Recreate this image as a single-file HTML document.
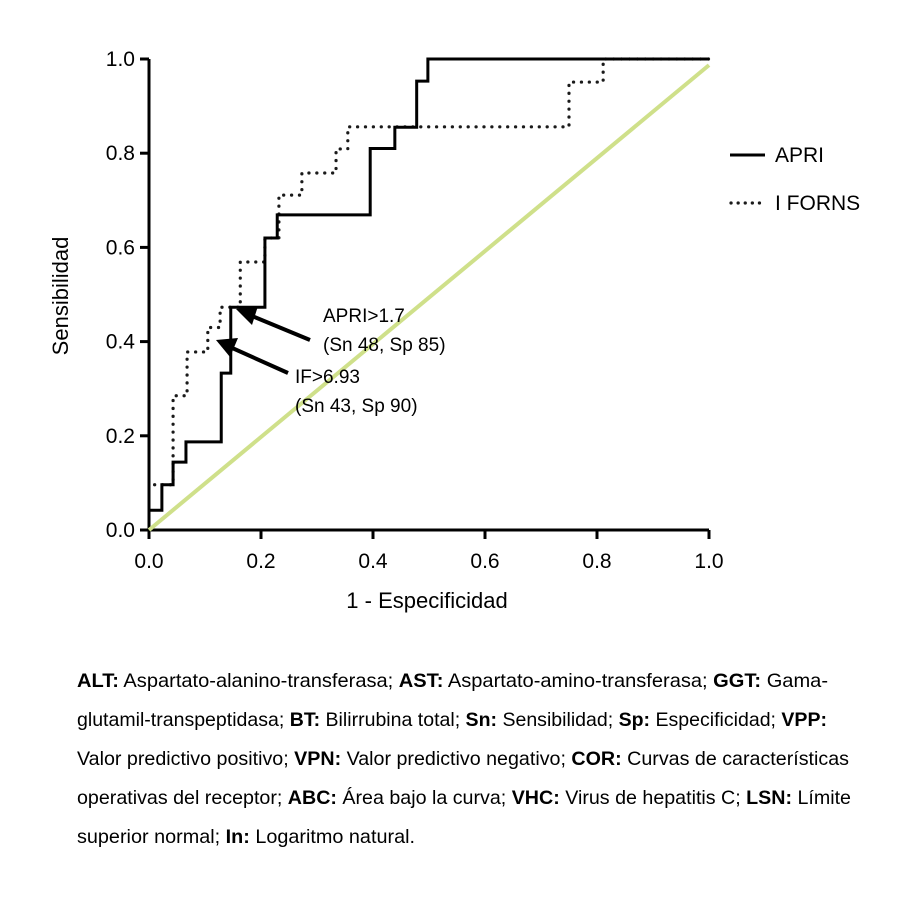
<!DOCTYPE html>
<html><head><meta charset="utf-8"><style>
body{margin:0;background:#fff}
svg{display:block;font-family:"Liberation Sans Narrow","Liberation Sans",sans-serif}
</style></head><body>
<svg id="chart" width="912" height="912" viewBox="0 0 912 912">
<rect width="912" height="912" fill="#fff"/>
<g id="axes"></g>
<g id="series"></g>
<text x="0" y="0" transform="translate(68 296) rotate(-90)" font-size="22" text-anchor="middle">Sensibilidad</text>
<text x="427" y="608" font-size="22" text-anchor="middle">1 - Especificidad</text>
<g>
<line x1="730" y1="155" x2="765" y2="155" stroke="#000" stroke-width="3"/>
<text x="775" y="162" font-size="21">APRI</text>
<line x1="731" y1="203" x2="766" y2="203" stroke="#1a1a1a" stroke-width="3.2" stroke-dasharray="0.1 7" stroke-linecap="round"/>
<text x="775" y="210" font-size="21">I FORNS</text>
</g>
<g>
<line x1="310" y1="340" x2="252" y2="316" stroke="#000" stroke-width="4"/>
<polygon points="236,309 258,306 252,325" fill="#000"/>
<text x="323" y="322" font-size="19">APRI&gt;1.7</text>
<text x="323" y="351" font-size="19">(Sn 48, Sp 85)</text>
<line x1="288" y1="373" x2="230" y2="347" stroke="#000" stroke-width="4"/>
<polygon points="216,340 238,338 230,357" fill="#000"/>
<text x="295" y="383" font-size="19">IF&gt;6.93</text>
<text x="295" y="412" font-size="19">(Sn 43, Sp 90)</text>
</g>
<g font-size="19.5">
<text x="77" y="687" textLength="751" lengthAdjust="spacingAndGlyphs"><tspan font-weight="bold">ALT:</tspan> Aspartato-alanino-transferasa; <tspan font-weight="bold">AST:</tspan> Aspartato-amino-transferasa; <tspan font-weight="bold">GGT:</tspan> Gama-</text>
<text x="77" y="726" textLength="750" lengthAdjust="spacingAndGlyphs">glutamil-transpeptidasa; <tspan font-weight="bold">BT:</tspan> Bilirrubina total; <tspan font-weight="bold">Sn:</tspan> Sensibilidad; <tspan font-weight="bold">Sp:</tspan> Especificidad; <tspan font-weight="bold">VPP:</tspan></text>
<text x="77" y="765" textLength="772" lengthAdjust="spacingAndGlyphs">Valor predictivo positivo; <tspan font-weight="bold">VPN:</tspan> Valor predictivo negativo; <tspan font-weight="bold">COR:</tspan> Curvas de características</text>
<text x="77" y="804" textLength="774" lengthAdjust="spacingAndGlyphs">operativas del receptor; <tspan font-weight="bold">ABC:</tspan> Área bajo la curva; <tspan font-weight="bold">VHC:</tspan> Virus de hepatitis C; <tspan font-weight="bold">LSN:</tspan> Límite</text>
<text x="77" y="843" textLength="338" lengthAdjust="spacingAndGlyphs">superior normal; <tspan font-weight="bold">In:</tspan> Logaritmo natural.</text>
</g>
</svg>
<script>
const ticks = [0, 0.2, 0.4, 0.6, 0.8, 1.0];
const tickLabels = ["0.0", "0.2", "0.4", "0.6", "0.8", "1.0"];
const apriFpr = [0, 0.023, 0.043, 0.066, 0.129, 0.146, 0.207, 0.229, 0.395, 0.439, 0.478, 0.498, 1];
const apriTpr = [0.042, 0.096, 0.144, 0.187, 0.333, 0.473, 0.62, 0.669, 0.81, 0.855, 0.953, 1, 1];
const fornsFpr = [0.01, 0.043, 0.068, 0.105, 0.127, 0.163, 0.207, 0.232, 0.273, 0.334, 0.355, 0.75, 0.811, 1];
const fornsTpr = [0.096, 0.285, 0.378, 0.43, 0.473, 0.569, 0.62, 0.711, 0.758, 0.809, 0.856, 0.951, 1, 1];
const refFpr = [0, 1];
const refTpr = [0, 0.987];

const NS = "http://www.w3.org/2000/svg";
const X0 = 149, X1 = 709, Y0 = 530, Y1 = 59;
function sx(v){ return X0 + v * (X1 - X0); }
function sy(v){ return Y0 - v * (Y0 - Y1); }
function mk(tag, attrs, parent){
  const e = document.createElementNS(NS, tag);
  for (const k in attrs) e.setAttribute(k, attrs[k]);
  parent.appendChild(e); return e;
}
const axes = document.getElementById('axes');
const series = document.getElementById('series');
let a = mk('path', {d:`M${sx(0)},${sy(1)} V${sy(0)} H${sx(1)}`, fill:'none', stroke:'#000', 'stroke-width':3}, axes);


ticks.forEach((t, i) => {
  const xt = mk('line', {x1:sx(t), x2:sx(t), y1:Y0, y2:Y0+9, stroke:'#000', 'stroke-width':3}, axes);
  
  
  const xl = mk('text', {x:sx(t), y:Y0+38, 'font-size':21, 'text-anchor':'middle'}, axes);
  xl.textContent = tickLabels[i];
  
  
  const yt = mk('line', {x1:X0-9, x2:X0, y1:sy(t), y2:sy(t), stroke:'#000', 'stroke-width':3}, axes);
  
  
  const yl = mk('text', {x:X0-14, y:sy(t)+7, 'font-size':21, 'text-anchor':'end'}, axes);
  yl.textContent = tickLabels[i];
  
  
});
const ref = mk('line', {x1:sx(refFpr[0]), y1:sy(refTpr[0]), x2:sx(refFpr[1]), y2:sy(refTpr[1]), stroke:'#cfe08a', 'stroke-width':4}, series);


function stepPath(fx, fy){
  let d = `M${sx(fx[0])},${sy(fy[0])}`;
  for (let i = 1; i < fx.length; i++) d += ` H${sx(fx[i])} V${sy(fy[i])}`;
  return d;
}
const pf = mk('path', {d:stepPath(fornsFpr, fornsTpr), fill:'none', stroke:'#1a1a1a', 'stroke-width':3.2, 'stroke-dasharray':'0.1 7.8', 'stroke-linecap':'round'}, series);


const pa = mk('path', {d:stepPath(apriFpr, apriTpr), fill:'none', stroke:'#000', 'stroke-width':3}, series);


</script>
</body></html>
